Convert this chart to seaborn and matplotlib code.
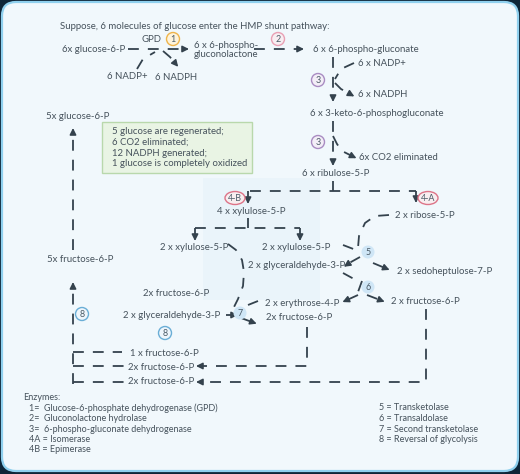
import seaborn as sns
import pandas as pd
import matplotlib.pyplot as plt
from matplotlib.patches import FancyBboxPatch, Ellipse, Rectangle

# metabolites of the HMP shunt
metabolites = ['6x glucose-6-P', 'GPD', '6 x 6-phospho-\ngluconolactone', '6 NADP+', '6 NADPH',
               '6 x 6-phospho-gluconate', '6 x NADP+', '6 x NADPH', '6 x 3-keto-6-phosphogluconate',
               '6x CO2 eliminated', '6 x ribulose-5-P', '4 x xylulose-5-P', '2 x ribose-5-P',
               '2 x xylulose-5-P', '2 x xylulose-5-P', '2 x glyceraldehyde-3-P', '2 x sedoheptulose-7-P',
               '2 x erythrose-4-P', '2 x fructose-6-P', '2x fructose-6-P', '2x fructose-6-P',
               '2 x glyceraldehyde-3-P', '1 x fructose-6-P', '2x fructose-6-P', '2x fructose-6-P',
               '5x fructose-6-P', '5x glucose-6-P']
# layout (pixels) of each label
met_xy = [(62, 49), (141, 39), (194, 50), (107, 76), (155, 77),
          (313, 49), (358, 63), (358, 94), (310, 113),
          (359, 158), (302, 174), (217, 212), (395, 216),
          (160, 247), (262, 247), (248, 265), (397, 272),
          (265, 303), (391, 301), (266, 318), (143, 294),
          (123, 316), (130, 353), (128, 367), (128, 382),
          (47, 260), (46, 116)]

summary = ['5 glucose are regenerated;', '6 CO2 eliminated;', '12 NADPH generated;',
           '1 glucose is completely oxidized']

enzymes_left = ['1=  Glucose-6-phosphate dehydrogenase (GPD)', '2=  Gluconolactone hydrolase',
                '3=  6-phospho-gluconate dehydrogenase', '4A = Isomerase', '4B = Epimerase']
enzymes_right = ['5 = Transketolase', '6 = Transaldolase', '7 = Second transketolase',
                 '8 = Reversal of glycolysis']

step_labels = ['1', '2', '3', '3', '4-B', '4-A', '5', '6', '7', '8', '8']
step_xy = [(173, 39), (278, 39), (318, 80), (318, 142), (235, 198), (428, 198),
           (368, 252), (368, 287), (240, 313), (82, 314), (165, 333)]
step_style = ['orange', 'pink', 'purple', 'purple', 'red', 'red', 'fill', 'fill', 'fill', 'blue', 'blue']

# dashed connectors (pixel polylines), flag = arrowhead at end
paths = [
    ([(128, 49), (184, 49)], True),
    ([(137, 69), (143, 59), (155, 52)], False),
    ([(163, 51), (170, 57), (175, 63)], True),
    ([(254, 49), (299, 49)], True),
    ([(333, 57), (333, 97)], True),
    ([(354, 63), (341, 69), (335, 79)], False),
    ([(335, 83), (341, 89), (350, 94)], True),
    ([(333, 121), (333, 161)], True),
    ([(333, 136), (337, 144), (342, 151), (352, 156)], True),
    ([(333, 181), (333, 191)], False),
    ([(250, 191), (416, 191)], False),
    ([(248, 191), (248, 199)], True),
    ([(416, 191), (416, 198)], True),
    ([(248, 218), (248, 228)], False),
    ([(195, 228), (300, 228)], False),
    ([(195, 228), (195, 236)], True),
    ([(300, 228), (300, 236)], True),
    ([(389, 215), (375, 216), (365, 223), (359, 236), (358, 248)], False),
    ([(343, 245), (356, 250)], False),
    ([(360, 257), (351, 262), (348, 264)], True),
    ([(373, 263), (385, 268)], True),
    ([(343, 273), (354, 279)], False),
    ([(362, 281), (358, 292)], False),
    ([(358, 295), (347, 300)], True),
    ([(367, 295), (380, 300)], True),
    ([(228, 244), (236, 250), (242, 260), (244, 272), (243, 286), (238, 299), (233, 309)], False),
    ([(258, 301), (248, 305)], False),
    ([(226, 315), (233, 315)], True),
    ([(241, 318), (252, 322)], True),
    ([(307, 327), (307, 366), (201, 366)], True),
    ([(426, 309), (426, 382), (201, 382)], True),
    ([(73, 384), (73, 287)], True),
    ([(73, 352), (122, 352)], False),
    ([(73, 366), (124, 366)], False),
    ([(73, 382), (124, 382)], False),
    ([(73, 250), (73, 133)], True),
]

sns.set_theme(style="white")
plt.rcParams['font.family'] = ['Lato', 'DejaVu Sans']

ink = '#46525c'
line = '#34424d'
fs = 6.9
fig = plt.figure(figsize=(5.2, 4.74), dpi=100)
fig.patch.set_facecolor('#0e2638')
ax = fig.add_axes([0, 0, 1, 1])
ax.set_xlim(0, 520)
ax.set_ylim(474, 0)
ax.axis('off')

ax.add_patch(FancyBboxPatch((2, 2), 516, 469, boxstyle='round,pad=0,rounding_size=14',
                            fc='#f1f8fc', ec='#8fd0ee', lw=1.6, zorder=0))
# faint watermark
ax.add_patch(Rectangle((203, 178), 117, 122, fc='#dcecf8', ec='none', alpha=0.3, zorder=0))

ax.text(60, 26, 'Suppose, 6 molecules of glucose enter the HMP shunt pathway:',
        fontsize=fs, color=ink, va='center')

for lab, (x, y) in zip(metabolites, met_xy):
    ax.text(x, y, lab, fontsize=fs, color=ink, va='center', ha='left', linespacing=1.0)

# summary box
ax.add_patch(Rectangle((102, 122), 150, 51, fc='#e9f4e4', ec='#b9d8ac', lw=1, zorder=1))
for i, s in enumerate(summary):
    ax.text(112, 132 + i * 10.6, s, fontsize=fs, color=ink, va='center', zorder=2)

# connectors
for pts, arrow in paths:
    df = pd.DataFrame(pts, columns=['x', 'y'])
    sns.lineplot(data=df, x='x', y='y', sort=False, estimator=None, ax=ax, color=line,
                 lw=1.3, linestyle=(0, (6, 5)))
    if arrow:
        (x0, y0), (x1, y1) = pts[-2], pts[-1]
        dx, dy = x1 - x0, y1 - y0
        n = (dx ** 2 + dy ** 2) ** 0.5
        ax.annotate('', xy=(x1 + 5 * dx / n, y1 + 5 * dy / n), xytext=(x1, y1),
                    arrowprops=dict(arrowstyle='-|>,head_length=0.32,head_width=0.16',
                                    color=line, lw=1.1, shrinkA=0, shrinkB=0))

edge = {'orange': ('#fdf3dc', '#efb44a'), 'pink': ('#f8eef2', '#e9a0b4'),
        'purple': ('#f3eef7', '#a98cc2'), 'red': ('#f8eef0', '#dd7488'),
        'fill': ('#cfe6f6', 'none'), 'blue': ('#eef6fc', '#6aaed6')}
for lab, (x, y), st in zip(step_labels, step_xy, step_style):
    fc, ec = edge[st]
    w = 20 if '-' in lab else 13
    ax.add_patch(Ellipse((x, y), w, 13, fc=fc, ec=ec, lw=1, zorder=3))
    ax.text(x, y + 0.5, lab, fontsize=6.4, color='#4a5a66', ha='center', va='center', zorder=4)

ax.text(23, 397, 'Enzymes:', fontsize=6.5, color=ink, va='center')
for i, s in enumerate(enzymes_left):
    ax.text(29, 408 + i * 10.5, s, fontsize=6.5, color=ink, va='center')
for i, s in enumerate(enzymes_right):
    ax.text(379, 408 + i * 10.5, s, fontsize=6.5, color=ink, va='center')

fig.savefig('out.png', dpi=100, facecolor=fig.get_facecolor())
